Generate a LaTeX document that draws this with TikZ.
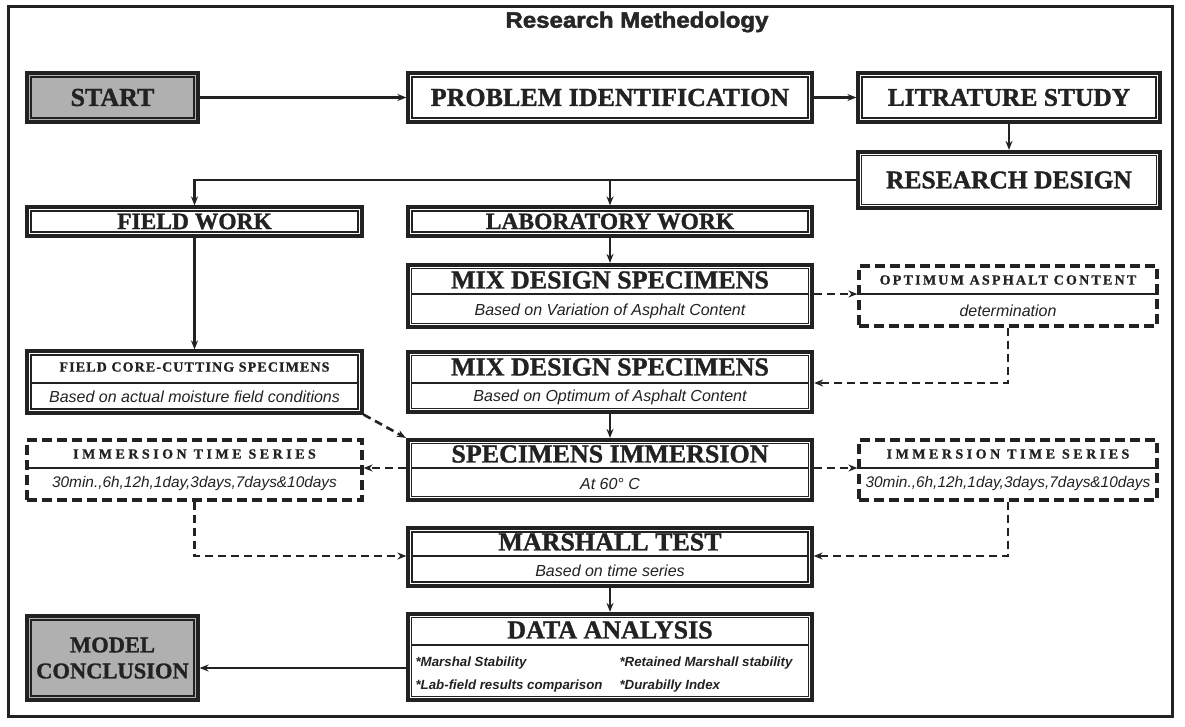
\documentclass[tikz,border=0pt]{standalone}
\usepackage{fontspec}
\usepackage{graphicx}
\setmainfont{Liberation Serif}[BoldFeatures={FakeBold=1.2}]
\newfontfamily\sansf{Liberation Sans}
\newfontfamily\titlef{Liberation Sans}[BoldFeatures={FakeBold=2}]
\newfontfamily\spacedserif{Liberation Serif}[LetterSpace=8,BoldFeatures={FakeBold=1}]
\newfontfamily\spacedserifb{Liberation Serif}[LetterSpace=16,BoldFeatures={FakeBold=1}]
\newfontfamily\spacedserifc{Liberation Serif}[LetterSpace=25,BoldFeatures={FakeBold=1}]
\usetikzlibrary{arrows.meta}
\definecolor{ink}{HTML}{222222}
\definecolor{shade}{HTML}{B0B0B0}
\tikzset{
  box/.style={draw=ink, line width=3.2pt, fill=white, rectangle, inner sep=0pt},
  thickbox/.style={box, line width=4.2pt},
  dbox/.style={draw=ink, line width=3.2pt, dash pattern=on 10pt off 5pt, fill=white, rectangle, inner sep=0pt},
  inner/.style={draw=ink, line width=1.1pt},
  divider/.style={draw=ink, line width=1.3pt},
  hd/.style={font=\bfseries\fontsize{26}{30}\selectfont, text=ink},
  hdm/.style={font=\bfseries\fontsize{25.5}{30}\selectfont, text=ink},
  hds/.style={font=\bfseries\fontsize{23.5}{28}\selectfont, text=ink},
  sm/.style={font=\spacedserif\bfseries\fontsize{14}{16}\selectfont, text=ink},
  smb/.style={font=\spacedserifb\bfseries\fontsize{14}{16}\selectfont, text=ink},
  smc/.style={font=\spacedserifc\bfseries\fontsize{14}{16}\selectfont, text=ink},
  it/.style={font=\sansf\itshape\fontsize{16}{18}\selectfont, text=ink},
  itc/.style={font=\sansf\itshape\fontsize{15.4}{18}\selectfont, text=ink},
  itsm/.style={font=\sansf\bfseries\itshape\fontsize{13.3}{15}\selectfont, text=ink, anchor=west},
  arr/.style={draw=ink, line width=2.4pt, -{Stealth[length=9pt,width=7pt]}},
  darr/.style={draw=ink, line width=2.6pt, dash pattern=on 8pt off 5pt, -{Stealth[length=9pt,width=7pt]}},
}
\begin{document}
\begin{tikzpicture}[x=1pt,y=-1pt]
\useasboundingbox (0,0) rectangle (1185,726);
\fill[white] (0,0) rectangle (1185,726);
% outer frame
\draw[ink, line width=3pt] (8,6) rectangle (1172,716);
\node[font=\titlef\bfseries, text=black!85] (title) at (637,22) {\resizebox{263pt}{16pt}{Research Methedology}};

% boxes
\node[box, fill=shade, minimum width=171, minimum height=49, hd] (start) at (112.5,97.5) {START};
\node[box, minimum width=404, minimum height=49, hd] (prob) at (610,97.5) {PROBLEM IDENTIFICATION};
\node[box, minimum width=302, minimum height=49, hdm] (lit) at (1009,97.5) {LITRATURE STUDY};
\node[thickbox, minimum width=302, minimum height=56, hdm] (rd) at (1009,180) {RESEARCH DESIGN};
\node[box, minimum width=335, minimum height=29, hds] (fw) at (194.5,221.5) {FIELD WORK};
\node[box, minimum width=404, minimum height=29, hds] (lab) at (610,221.5) {LABORATORY WORK};
\node[thickbox, minimum width=404, minimum height=62] (mix1) at (610,296) {};
\node[dbox, minimum width=298, minimum height=60] (opt) at (1008,296) {};
\node[thickbox, minimum width=404, minimum height=60] (mix2) at (610,382) {};
\node[box, minimum width=335, minimum height=62] (fc) at (194.5,382) {};
\node[thickbox, minimum width=404, minimum height=60] (si) at (610,470) {};
\node[dbox, minimum width=335, minimum height=60] (imL) at (194.5,470) {};
\node[dbox, minimum width=298, minimum height=60] (imR) at (1008,470) {};
\node[box, minimum width=404, minimum height=58] (mar) at (610,557) {};
\node[thickbox, minimum width=404, minimum height=86] (data) at (610,657) {};
\node[box, fill=shade, minimum width=171, minimum height=84, font=\bfseries\fontsize{22.5}{27}\selectfont, text=ink, align=center] (model) at (112.5,658) {MODEL\\[-1pt]CONCLUSION};

% inner lines of double borders
\foreach \n in {start,prob,lit,rd,fw,lab,mix1,mix2,fc,si,mar,data,model}
  \draw[inner] ([shift={(5.6pt,5.6pt)}]\n.south west) rectangle ([shift={(-5.6pt,-5.6pt)}]\n.north east);

% dividers
\draw[divider] ([xshift=5.6pt]mix1.west |- 0,294) -- ([xshift=-5.6pt]mix1.east |- 0,294);
\draw[divider] (opt.west |- 0,294) -- (opt.east |- 0,294);
\draw[divider] ([xshift=5.6pt]mix2.west |- 0,383) -- ([xshift=-5.6pt]mix2.east |- 0,383);
\draw[divider] ([xshift=5.6pt]fc.west |- 0,383) -- ([xshift=-5.6pt]fc.east |- 0,383);
\draw[divider] ([xshift=5.6pt]si.west |- 0,468) -- ([xshift=-5.6pt]si.east |- 0,468);
\draw[divider] (imL.west |- 0,468) -- (imL.east |- 0,468);
\draw[divider] (imR.west |- 0,468) -- (imR.east |- 0,468);
\draw[divider] ([xshift=5.6pt]mar.west |- 0,556) -- ([xshift=-5.6pt]mar.east |- 0,556);
\draw[divider] ([xshift=5.6pt]data.west |- 0,645) -- ([xshift=-5.6pt]data.east |- 0,645);

% texts in divided boxes
\node[hd] (mix1t) at (610,280) {MIX DESIGN SPECIMENS};
\node[it] (mix1s) at (610,311) {Based on Variation of Asphalt Content};
\node[smb] (optt) at (1008,280) {OPTIMUM ASPHALT CONTENT};
\node[it] (opts) at (1008,311) {determination};
\node[hd] (mix2t) at (610,367) {MIX DESIGN SPECIMENS};
\node[it] (mix2s) at (610,397) {Based on Optimum of Asphalt Content};
\node[sm] (fct) at (194.5,367) {FIELD CORE-CUTTING SPECIMENS};
\node[it] (fcs) at (194.5,397) {Based on actual moisture field conditions};
\node[hd] (sit) at (610,454) {SPECIMENS IMMERSION};
\node[it] (sis) at (610,484) {At 60° C};
\node[smc] (imLt) at (194.5,454) {IMMERSION TIME SERIES};
\node[itc] (imLs) at (194.5,484) {30min.,6h,12h,1day,3days,7days\&10days};
\node[smc] (imRt) at (1008,454) {IMMERSION TIME SERIES};
\node[itc] (imRs) at (1008,484) {30min.,6h,12h,1day,3days,7days\&10days};
\node[hd] (mart) at (610,542) {MARSHALL TEST};
\node[it] (mars) at (610,571) {Based on time series};
\node[hd] (datat) at (610,630) {DATA ANALYSIS};
\node[itsm] (d1) at (412,663) {*Marshal Stability};
\node[itsm] (d2) at (616,663) {*Retained Marshall stability};
\node[itsm] (d3) at (412,686) {*Lab-field results comparison};
\node[itsm] (d4) at (616,686) {*Durabilly Index};

% connectors
\draw[arr] (start) -- (prob);
\draw[arr] (prob) -- (lit);
\draw[arr] (lit) -- (rd);
\draw[arr] (rd.west) -| (fw.north);
\draw[arr] (rd.west -| lab.north) -- (lab.north);
\draw[arr] (lab) -- (mix1);
\draw[darr] (mix1.east |- 0,294) -- (opt.west |- 0,294);
\draw[darr] (opt.south) |- (mix2.east |- 0,383);
\draw[arr] (mix2) -- (si);
\draw[arr] (fw) -- (fc);
\draw[darr] (fc.south east) -- (si.north west);
\draw[darr] (si.west |- 0,468) -- (imL.east |- 0,468);
\draw[darr] (si.east |- 0,468) -- (imR.west |- 0,468);
\draw[darr] (imL.south) |- (mar.west |- 0,556);
\draw[darr] (imR.south) |- (mar.east |- 0,556);
\draw[arr] (mar) -- (data);
\draw[arr] (data.west |- 0,668) -- (model.east |- 0,668);
\end{tikzpicture}
\end{document}
